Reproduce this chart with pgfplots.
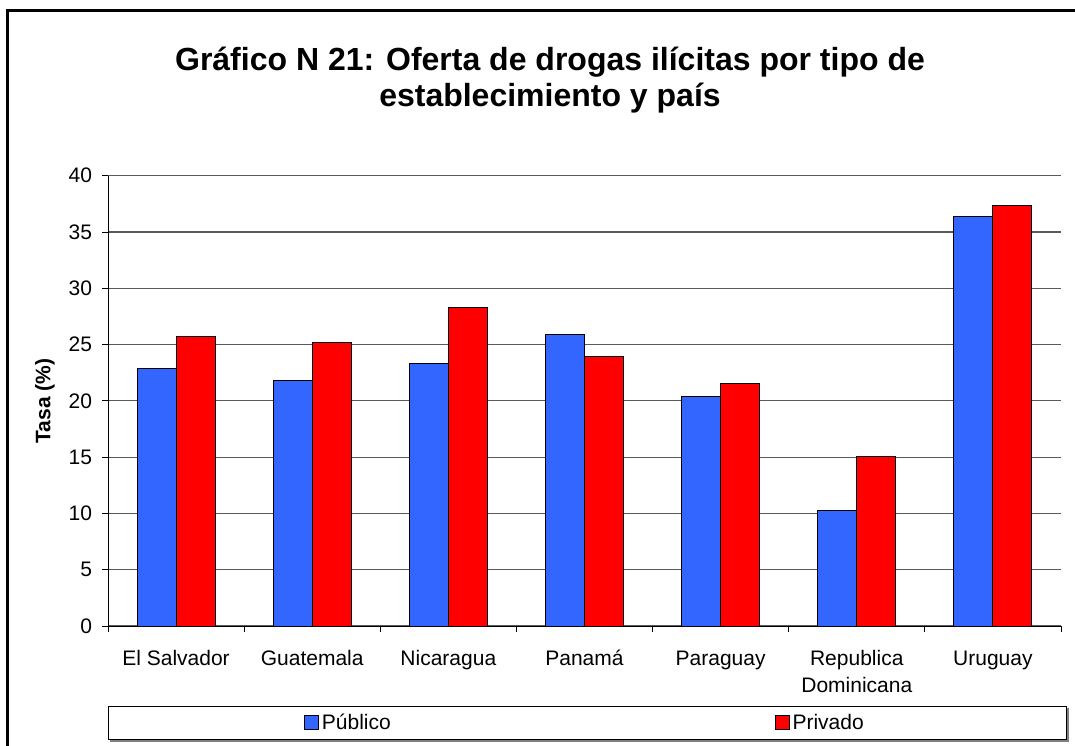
\documentclass[border=0pt]{standalone}
\usepackage{fontspec}
\setmainfont{Liberation Sans}
\usepackage{pgfplots}
\pgfplotsset{compat=1.18}

\definecolor{publico}{HTML}{3366FF}
\definecolor{privado}{HTML}{FF0000}
\definecolor{gridgray}{HTML}{5A5A5A}

\begin{document}
\begin{tikzpicture}[x=0.75pt,y=-0.75pt]
% canvas in pixels of the reference (1075 x 746)
\path[use as bounding box] (0,0) rectangle (1075,746);
\draw[line width=1.9pt] (7.5,760) -- (7.5,10.5) -- (1090,10.5);

% title
\node[font=\bfseries\fontsize{24}{28}\selectfont, anchor=base] at (550,70)
  {Gráfico N 21: Oferta de drogas ilícitas por tipo de};
\node[font=\bfseries\fontsize{24}{28}\selectfont, anchor=base] at (550,106)
  {establecimiento y país};

% y label
\node[font=\bfseries\fontsize{15.75}{18}\selectfont, rotate=90] at (45,401) {Tasa (\%)};

% legend frame
\draw[gray, line width=1.5pt] (110,740.5) -- (1067.5,740.5) -- (1067.5,708);
\draw[black, line width=0.75pt, fill=white] (108,706) rectangle (1066,739);

\begin{axis}[
    at={(81pt,-469.5pt)}, anchor=south west,
    scale only axis,
    width=714.75pt, height=337.7pt,
    ybar=0pt, bar width=29.25pt,
    xmin=-0.5, xmax=6.5,
    ymin=0, ymax=40,
    ytick={0,5,...,40},
    xtick={0,...,6},
    xticklabels={\strut El Salvador, \strut Guatemala, \strut Nicaragua, \strut Panamá,
        \strut Paraguay, {\strut Republica\\Dominicana}, \strut Uruguay},
    minor xtick={-0.5,0.5,...,6.5},
    major x tick style={draw=none},
    axis x line*=bottom, axis y line*=left,
    tick align=outside,
    major tick length=4.5pt, minor tick length=4.5pt,
    tick style={black, line width=0.6pt},
    axis line style={black, line width=0.75pt},
    ymajorgrids,
    grid style={gridgray, line width=0.9pt},
    /pgf/number format/assume math mode=true,
    tick label style={font=\fontsize{15.75}{20.25}\selectfont},
    xticklabel style={align=center, anchor=north, yshift=-7.5pt},
    yticklabel style={xshift=-4pt},
    legend columns=2,
    legend style={at={(0.2057,-0.2143)}, anchor=west, draw=none, fill=none,
        inner sep=0pt, font=\fontsize{15.75}{18}\selectfont,
        /tikz/every even column/.append style={column sep=286pt}},
    legend image code/.code={\draw[#1] (0pt,-5.25pt) rectangle (10.5pt,5.25pt);},
]
\addplot[fill=publico, draw=black, line width=0.75pt] coordinates {
    (0,22.9) (1,21.8) (2,23.3) (3,25.9) (4,20.4) (5,10.3) (6,36.4)};
\addplot[fill=privado, draw=black, line width=0.75pt] coordinates {
    (0,25.7) (1,25.2) (2,28.3) (3,23.9) (4,21.5) (5,15.1) (6,37.4)};
\legend{Público, Privado}
\end{axis}
\end{tikzpicture}
\end{document}
